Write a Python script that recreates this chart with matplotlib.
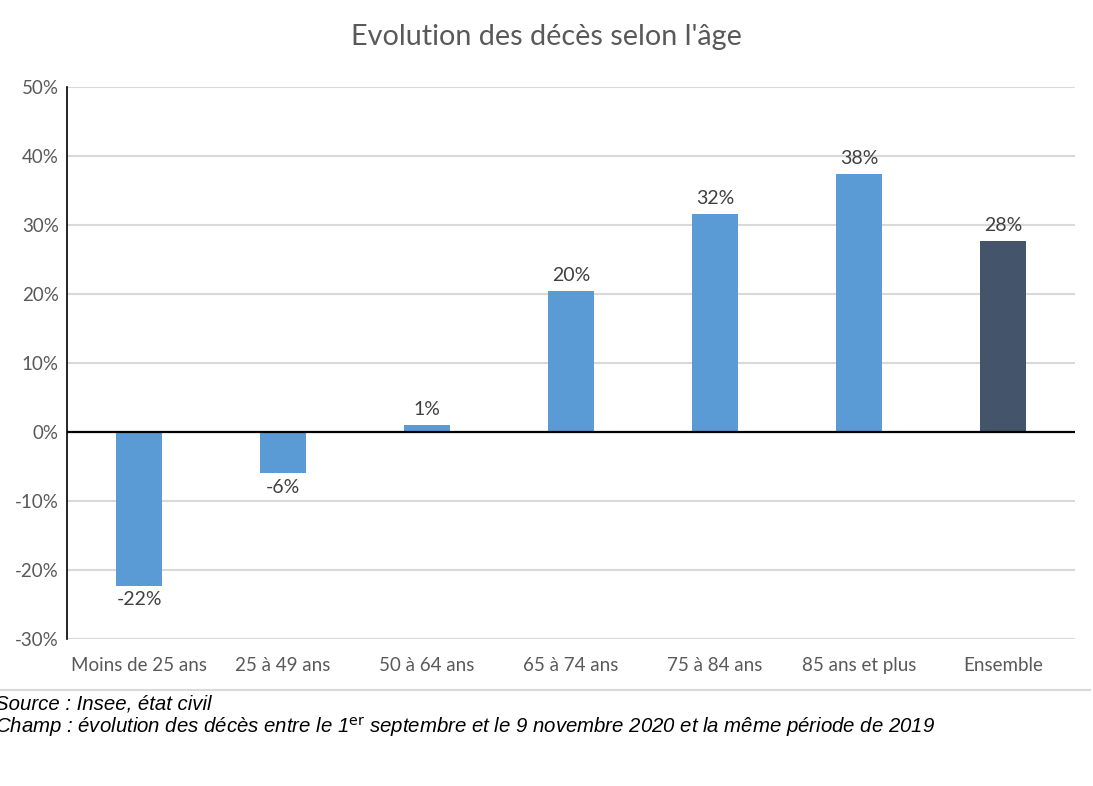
import matplotlib
matplotlib.use("Agg")
import matplotlib.pyplot as plt
from matplotlib.lines import Line2D

categories = ["Moins de 25 ans", "25 à 49 ans", "50 à 64 ans", "65 à 74 ans",
              "75 à 84 ans", "85 ans et plus", "Ensemble"]
values = [-22.3, -6.0, 1.0, 20.4, 31.6, 37.4, 27.7]
labels = ["-22%", "-6%", "1%", "20%", "32%", "38%", "28%"]
yticks = [-30, -20, -10, 0, 10, 20, 30, 40, 50]
colors = ["#5B9BD5"] * 6 + ["#44546A"]

plt.rcParams['font.family'] = ['Lato', 'DejaVu Sans']
fig = plt.figure(figsize=(10.93, 7.86), dpi=100)
ax = fig.add_axes([67/1093, 1-639/786, (1075-67)/1093, (639-87)/786])

x = list(range(len(categories)))
ax.bar(x, values, width=0.32, color=colors, zorder=3)
ax.set_xlim(-0.5, len(categories) - 0.5)
ax.set_ylim(-30, 50)
ax.set_yticks(yticks)
ax.set_yticklabels([f"{t}%" for t in yticks])
ax.set_xticks(x)
ax.set_xticklabels(categories)
ax.tick_params(axis='both', length=0, labelsize=13.5, colors="#595959")
ax.tick_params(axis='x', pad=13)
ax.tick_params(axis='y', pad=6)
ax.grid(axis='y', color="#D9D9D9", linewidth=1.5, zorder=0)
for s in ["top", "right", "bottom"]:
    ax.spines[s].set_visible(False)
ax.spines["left"].set_color("black")
ax.spines["left"].set_linewidth(1.2)
ax.axhline(0, color="black", linewidth=1.6, zorder=4)

for xi, v, lab in zip(x, values, labels):
    if v >= 0:
        ax.annotate(lab, (xi, v), xytext=(0, 5), textcoords="offset points",
                    ha="center", va="bottom", fontsize=14, color="#404040")
    else:
        ax.annotate(lab, (xi, v), xytext=(0, -4), textcoords="offset points",
                    ha="center", va="top", fontsize=14, color="#404040")

fig.text(546/1093, 1-37/786, "Evolution des décès selon l'âge", ha="center", va="center",
         fontsize=20.7, color="#595959")

fig.add_artist(Line2D([0, 1090/1093], [1-690/786, 1-690/786], color="#D9D9D9",
                      linewidth=1.5, transform=fig.transFigure))

fig.text(-5/1093, 1-704/786, "Source : Insee, état civil", ha="left", va="center",
         fontsize=14.7, style="italic", family="Liberation Sans", color="black")
fig.text(-5/1093, 1-728/786,
         "Champ : évolution des décès entre le 1$^{\\mathrm{er}}$ septembre et le 9 novembre 2020 et la même période de 2019",
         ha="left", va="center", fontsize=14.7, style="italic", family="Liberation Sans", color="black")

fig.savefig("out.png", dpi=100, facecolor="white")
